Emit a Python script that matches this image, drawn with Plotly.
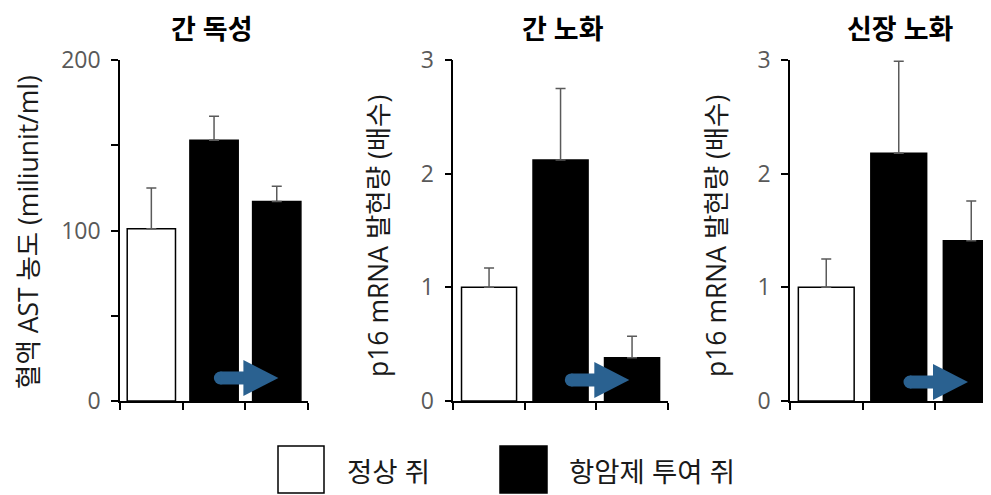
import plotly.graph_objects as go

W, H = 991, 495

# ---- data ----
panel_titles = ["간 독성", "간 노화", "신장 노화"]
y_titles = ["혈액 AST 농도 (miliunit/ml)", "p16 mRNA 발현량 (배수)", "p16 mRNA 발현량 (배수)"]

ast_mean = [101, 153, 117]
ast_err = [24, 14, 9]
liver_p16_mean = [1.0, 2.12, 0.38]
liver_p16_err = [0.17, 0.63, 0.19]
kidney_p16_mean = [1.0, 2.18, 1.41]
kidney_p16_err = [0.25, 0.81, 0.35]

y_ranges = [[0, 200], [0, 3], [0, 3]]
y_tickvals = [[0, 50, 100, 150, 200], [0, 1, 2, 3], [0, 1, 2, 3]]
y_ticktext = [["0", "", "100", "", "200"], ["0", "1", "2", "3"], ["0", "1", "2", "3"]]
arrow_y = [13.5, 0.185, 0.167]

legend_labels = ["정상 쥐", "항암제 투여 쥐"]

# ---- layout geometry (screen pixels; page body has an 8px offset) ----
OFF = 8


def px(x):
    return (x - OFF) / W


def py(y):
    return 1 - (y - OFF) / H


plot_top, plot_bot = 60, 401
x_left = [120, 453.3, 790]
cat_w = [62.7, 71.5, 72.5]

FONT = "Open Sans, Noto Sans CJK KR, sans-serif"
fills = ["white", "black", "black"]

fig = go.Figure()
means = [ast_mean, liver_p16_mean, kidney_p16_mean]
errs = [ast_err, liver_p16_err, kidney_p16_err]

for i in range(3):
    xa = "x" if i == 0 else f"x{i+1}"
    ya = "y" if i == 0 else f"y{i+1}"
    fig.add_trace(go.Bar(
        x=[0, 1, 2], y=means[i], width=0.77,
        marker=dict(color=fills, line=dict(color="black", width=1.5)),
        error_y=dict(type="data", symmetric=False, array=errs[i], arrayminus=[0, 0, 0],
                     color="#5a5a5a", thickness=1.5, width=5),
        xaxis=xa, yaxis=ya, showlegend=False, hoverinfo="skip",
    ))
    key = "" if i == 0 else str(i + 1)
    d0 = px(x_left[i])
    d1 = min(1.0, px(x_left[i] + 3 * cat_w[i]))
    span = (d1 - d0) * W / cat_w[i]
    fig.layout["xaxis" + key] = dict(
        domain=[d0, d1], range=[-0.5, -0.5 + span], anchor=ya, automargin=False,
        showgrid=False, zeroline=False, showline=True, linecolor="black", linewidth=1.5,
        tickmode="array", tickvals=[-0.5, 0.5, 1.5, 2.5], ticks="outside", ticklen=7,
        tickwidth=1.5, tickcolor="black", showticklabels=False, fixedrange=True,
    )
    fig.layout["yaxis" + key] = dict(
        domain=[py(plot_bot), py(plot_top)], range=y_ranges[i], anchor=xa, automargin=False,
        showgrid=False, zeroline=False, showline=True, linecolor="black", linewidth=1.5,
        tickmode="array", tickvals=y_tickvals[i], ticktext=y_ticktext[i],
        ticks="outside", ticklen=7, tickwidth=1.5, tickcolor="black",
        tickfont=dict(family=FONT, size=23, color="#595959"), ticklabelstandoff=6,
        fixedrange=True,
    )
    # arrow (decoration) anchored in data coordinates, drawn in pixel offsets
    col = "#2a6190"
    common = dict(xref=xa, yref=ya, xsizemode="pixel", ysizemode="pixel",
                  xanchor=1.5, yanchor=arrow_y[i], fillcolor=col, line=dict(width=0),
                  layer="above")
    fig.add_shape(type="circle", x0=-31.5, x1=-18.5, y0=-6.5, y1=6.5, **common)
    fig.add_shape(type="rect", x0=-25, x1=-1, y0=-6.5, y1=6.5, **common)
    fig.add_shape(type="path", path="M -2,-18 L 33,0 L -2,18 Z", **common)

# panel titles
title_x = [212, 563, 900]
for i in range(3):
    fig.add_annotation(text="<b>" + panel_titles[i] + "</b>", x=px(title_x[i]), y=py(28),
                       xref="paper", yref="paper", xanchor="center", yanchor="middle",
                       showarrow=False, font=dict(family=FONT, size=27, color="black"))

# y-axis titles
ytitle_x = [28, 378, 716]
ytitle_y = [232, 236, 236]
for i in range(3):
    fig.add_annotation(text=y_titles[i], x=px(ytitle_x[i]), y=py(ytitle_y[i]),
                       xref="paper", yref="paper", xanchor="center", yanchor="middle",
                       textangle=-90, showarrow=False,
                       font=dict(family=FONT, size=26.5, color="#1a1a1a"))

# legend (drawn manually for large swatches)
sw = [(278, 324, "white"), (500, 547, "black")]
txt_x = [345, 567]
for (a, b, c), tx, lab in zip(sw, txt_x, legend_labels):
    fig.add_shape(type="rect", xref="paper", yref="paper", x0=px(a), x1=px(b),
                  y0=py(493), y1=py(446), fillcolor=c,
                  line=dict(color="black", width=1.5))
    fig.add_annotation(text=lab, x=px(tx), y=py(471), xref="paper", yref="paper",
                       xanchor="left", yanchor="middle", showarrow=False,
                       font=dict(family=FONT, size=27.5, color="#1a1a1a"))

fig.update_layout(
    width=W, height=H, margin=dict(l=0, r=0, t=0, b=0, autoexpand=False),
    paper_bgcolor="white", plot_bgcolor="white",
    font=dict(family=FONT),
)

fig.write_html("out.html")
